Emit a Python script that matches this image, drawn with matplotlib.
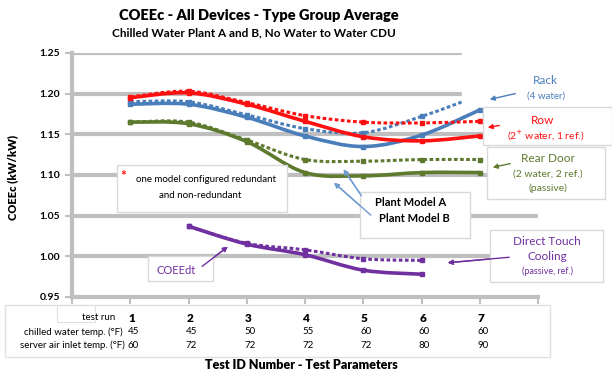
import matplotlib.pyplot as plt
from matplotlib.path import Path
from matplotlib.patches import PathPatch, Rectangle
from matplotlib.transforms import blended_transform_factory

plt.rcParams['font.family'] = ['Lato', 'DejaVu Sans']

# data (A = dashed, B = solid)
tests = [1, 2, 3, 4, 5, 6, 7]
row_a = [1.196, 1.203, 1.189, 1.173, 1.165, 1.164, 1.166]
row_b = [1.195, 1.201, 1.187, 1.166, 1.147, 1.142, 1.148]
rack_a = [1.190, 1.190, 1.174, 1.157, 1.152, 1.172, 1.198]
rack_b = [1.187, 1.187, 1.171, 1.148, 1.135, 1.149, 1.180]
rear_a = [1.165, 1.165, 1.143, 1.119, 1.117, 1.119, 1.119]
rear_b = [1.165, 1.163, 1.141, 1.103, 1.099, 1.103, 1.103]
dtc_tests = [2, 3, 4, 5, 6]
dtc_a = [1.037, 1.016, 1.008, 0.997, 0.995]
dtc_b = [1.037, 1.015, 1.002, 0.983, 0.978]

chilled_water = [45, 45, 50, 55, 60, 60, 60]
air_inlet = [60, 72, 72, 72, 72, 80, 90]

BLUE = '#4A7EBB'
RED = '#FF1010'
GREEN = '#5E7A2E'
PURPLE = '#7030A0'
GRID = '#BFBFBF'

W, H = 612, 377
fig = plt.figure(figsize=(W / 100, H / 100), dpi=100)
ax = fig.add_axes([72 / W, 1 - 297 / H, (538 - 72) / W, (297 - 53) / H])
ax.set_zorder(2)


def px(x, y):
    return x / W, 1 - y / H


def smooth_path(xs, ys):
    # Excel style smoothed line through the points (bezier segments)
    pts = list(zip(xs, ys))
    verts = [pts[0]]
    codes = [Path.MOVETO]
    n = len(pts)
    for i in range(n - 1):
        p0 = pts[max(i - 1, 0)]
        p1 = pts[i]
        p2 = pts[i + 1]
        p3 = pts[min(i + 2, n - 1)]
        c1 = (p1[0] + (p2[0] - p0[0]) / 6, p1[1] + (p2[1] - p0[1]) / 6)
        c2 = (p2[0] - (p3[0] - p1[0]) / 6, p2[1] - (p3[1] - p1[1]) / 6)
        verts += [c1, c2, p2]
        codes += [Path.CURVE4] * 3
    return Path(verts, codes)


def draw_series(xs, ys, color, dashed):
    ls = (0, (1.2, 0.8)) if dashed else '-'
    lw = 2.2 if dashed else 2.6
    ax.add_patch(PathPatch(smooth_path(xs, ys), fill=False, edgecolor=color,
                           lw=lw, linestyle=ls, zorder=3, capstyle='butt'))
    ax.plot(xs, ys, 's', color=color, ms=3.5, zorder=4)


for a, b, c in [(rear_a, rear_b, GREEN), (rack_a, rack_b, BLUE), (row_a, row_b, RED)]:
    draw_series(tests, a, c, True)
    draw_series(tests, b, c, False)
draw_series(dtc_tests, dtc_a, PURPLE, True)
draw_series(dtc_tests, dtc_b, PURPLE, False)

ax.set_xlim(0, 8)
ax.set_ylim(0.95, 1.25)
ax.set_yticks([0.95, 1.00, 1.05, 1.10, 1.15, 1.20, 1.25])
ax.set_yticklabels([f'{v:.2f}' for v in ax.get_yticks()], fontsize=7.5, fontweight='bold')
ax.set_xticks(range(0, 9))
ax.set_xticklabels([])
for yv in [1.00, 1.05, 1.10, 1.15, 1.20, 1.25]:
    ax.axhline(yv, color=GRID, lw=3, zorder=1)
for s in ['top', 'right']:
    ax.spines[s].set_visible(False)
for s in ['left', 'bottom']:
    ax.spines[s].set_color(GRID)
    ax.spines[s].set_linewidth(3)
ax.tick_params(axis='both', color=GRID, width=1.5, length=5)
ax.set_facecolor('none')

# titles and axis titles
fig.text(*px(259, 16), 'COEEc - All Devices - Type Group Average', ha='center', va='center',
         fontsize=10.5, fontweight='heavy')
fig.text(*px(254, 33), 'Chilled Water Plant A and B, No Water to Water CDU', ha='center',
         va='center', fontsize=8.5, fontweight='bold')
fig.text(*px(13, 177), 'COEEc (kW/kW)', rotation=90, ha='center', va='center',
         fontsize=8, fontweight='heavy')
fig.text(*px(301, 365), 'Test ID Number - Test Parameters', ha='center', va='center',
         fontsize=9, fontweight='heavy')

# parameter table under the axis
fig.patches.append(Rectangle(px(5, 357), 545 / W, 52 / H, transform=fig.transFigure,
                             facecolor='white', edgecolor='#E0E0E0', lw=1, zorder=0))
fig.patches.append(Rectangle(px(57, 322), 38 / W, 17 / H, transform=fig.transFigure,
                             facecolor='none', edgecolor='#E0E0E0', lw=0.8, zorder=0))
fig.text(*px(115, 318), 'test run', ha='right', va='center', fontsize=7)
fig.text(*px(123, 332), 'chilled water temp. (°F)', ha='right', va='center', fontsize=7)
fig.text(*px(125, 345), 'server air inlet temp. (°F)', ha='right', va='center', fontsize=7)
trans = blended_transform_factory(ax.transData, fig.transFigure)
for i, t in enumerate(tests):
    ax.text(t + 0.02, px(0, 318)[1], str(t), transform=trans, ha='center', va='center',
            fontsize=8.5, fontweight='heavy', clip_on=False)
    ax.text(t + 0.05, px(0, 332)[1], str(chilled_water[i]), transform=trans, ha='center',
            va='center', fontsize=7, clip_on=False)
    ax.text(t + 0.05, px(0, 345)[1], str(air_inlet[i]), transform=trans, ha='center',
            va='center', fontsize=7, clip_on=False)


def box(x0, y0, x1, y1, edge='#D9D9D9'):
    fig.add_artist(Rectangle(px(x0, y1), (x1 - x0) / W, (y1 - y0) / H,
                             transform=fig.transFigure, facecolor='white',
                             edgecolor=edge, lw=1, zorder=5))


def label(x, y, s, color, size=8, weight='normal'):
    fig.text(*px(x, y), s, ha='center', va='center', color=color, fontsize=size,
             fontweight=weight, zorder=6)


def arrow(x0, y0, x1, y1, color):
    fig.add_artist(plt.annotate('', xy=px(x1, y1), xytext=px(x0, y0),
                                xycoords='figure fraction', textcoords='figure fraction',
                                arrowprops=dict(arrowstyle='-|>', color=color, lw=1,
                                                mutation_scale=7), zorder=6))


# right-hand labels
box(462, 50, 612, 104, edge='white')
label(545, 81, 'Rack', BLUE, 8.5)
label(546, 96, '(4 water)', BLUE, 7)
arrow(518, 93, 487, 100, BLUE)

box(483, 107, 612, 145)
label(543, 121, 'Row', RED, 8.5)
label(546, 135, '(2$^{+}$ water, 1 ref.)', RED, 7.5)
arrow(502, 125, 485, 128, RED)

box(487, 147, 605, 199)
label(548, 159, 'Rear Door', GREEN, 8.5)
label(548, 174, '(2 water, 2 ref.)', GREEN, 7.5)
label(548, 188, '(passive)', GREEN, 7.5)
arrow(513, 163, 490, 168, GREEN)

box(490, 230, 603, 282)
label(547, 242, 'Direct Touch', PURPLE, 8.5)
label(547, 257, 'Cooling', PURPLE, 8.5)
label(547, 271, '(passive, ref.)', PURPLE, 6.5)
arrow(512, 257, 445, 263, PURPLE)

# notes inside the plot
box(117, 165, 287, 212)
label(123, 176, '*', RED, 10, 'bold')
label(206, 179, 'one model configured redundant', 'black', 7)
label(200, 196, 'and non-redundant', 'black', 7)

box(360, 192, 470, 238)
label(411, 203, 'Plant Model A', 'black', 8, 'bold')
label(414, 219, 'Plant Model B', 'black', 8, 'bold')
arrow(363, 198, 342, 167, '#6F9BD1')
arrow(373, 217, 332, 181, '#6F9BD1')

box(148, 256, 213, 281)
label(176, 270, 'COEEdt', PURPLE, 8)
arrow(200, 268, 230, 245, PURPLE)

fig.savefig('out.png', dpi=100)
